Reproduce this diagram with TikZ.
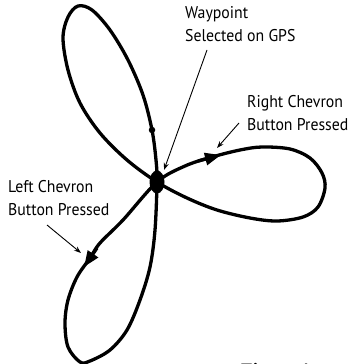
\documentclass[tikz,border=0pt]{standalone}
\usepackage{fontspec}
\setmainfont[FakeStretch=0.93]{PT Sans}
\newfontfamily\figfont{Liberation Serif}
\usetikzlibrary{arrows.meta,shapes.geometric}
\tikzset{
  petal/.style={line width=3.3pt, line cap=round, line join=round},
  lbl/.style={font=\fontsize{17}{23}\selectfont, align=left, inner sep=0pt, anchor=north west},
  pointer/.style={line width=0.9pt, -{Stealth[length=7pt,width=5pt]}},
  bighead/.style={line width=3.3pt, -{Triangle[length=16pt,width=12pt]}},
}
\begin{document}
\begin{tikzpicture}[x=1pt,y=-1pt]
\useasboundingbox (0,0) rectangle (352,364);
% three-lobed path
\draw[petal] plot[smooth cycle, tension=0.55] coordinates {
  (157,182)
  (185,166) (212,157) (240,150) (262,147) (290,149) (310,158) (322,173)
  (325,188) (318,207) (303,217) (277,221) (250,218) (217,210) (187,198)
  (157,182)
  (127,160) (100,133) (80,103) (68,70) (63,38) (68,17) (78,6) (92,10)
  (110,30) (128,60) (143,95) (152,130) (156,160)
  (157,182)
  (155,230) (150,267) (140,300) (127,330) (110,350) (90,361) (80,362)
  (68,347) (65,323) (68,300) (77,277) (90,258) (100,243) (123,220)
};
% centre waypoint
\node[fill=black, ellipse, minimum width=15pt, minimum height=23pt, inner sep=0pt] (hub) at (157,182) {};
% small dot on upper lobe
\node[fill=black, circle, minimum size=6.5pt, inner sep=0pt] (dot) at (152,130) {};
% direction arrowheads on the lobes
\coordinate (ra0) at (198,161);
\coordinate (ra1) at (221,155);
\draw[bighead] (ra0) -- (ra1);
\coordinate (la0) at (97,248);
\coordinate (la1) at (84,267);
\draw[bighead] (la0) -- (la1);
% labels
\node[lbl] (wp) at (185,6) {Waypoint\\Selected on GPS};
\node[lbl] (rc) at (247,95) {Right Chevron\\Button Pressed};
\node[lbl] (lc) at (8,180) {Left Chevron\\Button Pressed};
\begin{scope}
\clip (0,0) rectangle (352,364);
\node[anchor=base west, inner sep=0pt, font=\figfont\bfseries\fontsize{19}{23}\selectfont] (fig) at (241,376) {Figure 4};
\end{scope}
% pointers
\coordinate (wpa) at (207,50);
\coordinate (wpb) at (164,170);
\draw[pointer] (wpa) -- (wpb);
\coordinate (rca) at (239,123);
\coordinate (rcb) at (217,148);
\draw[pointer] (rca) -- (rcb);
\coordinate (lca) at (47,225);
\coordinate (lcb) at (81,253);
\draw[pointer] (lca) -- (lcb);
\end{tikzpicture}
\end{document}
